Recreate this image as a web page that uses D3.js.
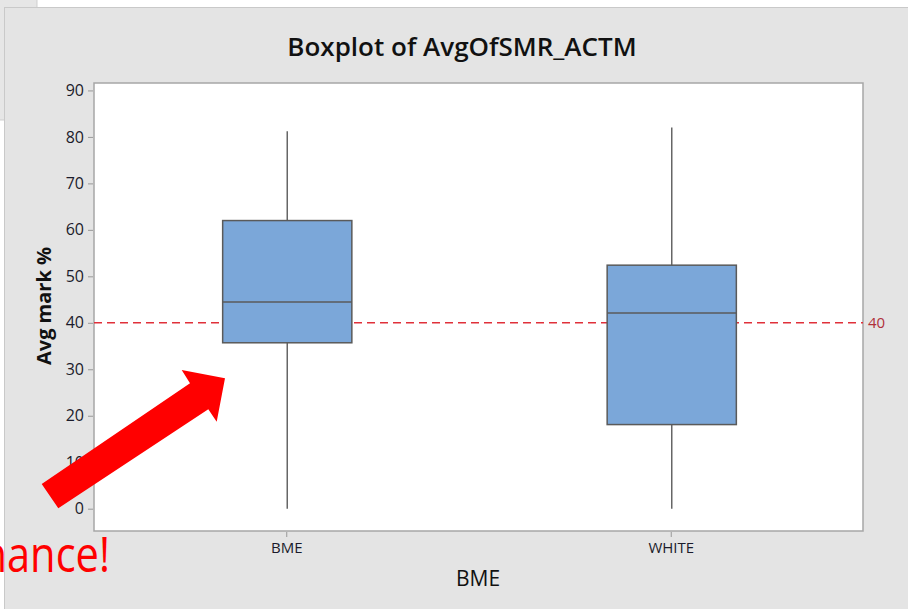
<!DOCTYPE html>
<html>
<head>
<meta charset="utf-8">
<script src="https://cdn.jsdelivr.net/npm/d3@7"></script>
<style>
  html, body { margin: 0; padding: 0; background: #fff; overflow: hidden; }
  svg { display: block; }
</style>
</head>
<body>
<div id="chart"></div>
<script>
// data
const groups = ["BME", "WHITE"]
const whiskerLow = [0, 0]
const q1 = [35.7, 18.1]
const median = [44.5, 42.1]
const q3 = [62.0, 52.4]
const whiskerHigh = [81.2, 82.0]
const refValue = 40
const yTicks = [0, 10, 20, 30, 40, 50, 60, 70, 80, 90]

const W = 908, H = 609
const plot = { left: 94, top: 83, right: 863, bottom: 531 }
const font = "'Open Sans', 'Noto Sans', sans-serif"

const svg = d3.select("#chart").append("svg")
    .attr("width", W)
    .attr("height", H)

// window bits behind the chart panel
svg.append("rect")
    .attr("x", -1).attr("y", -1)
    .attr("width", 38).attr("height", 121)
    .attr("fill", "#e6e6e6")
    .attr("stroke", "#cfcfcf")

svg.append("rect")
    .attr("x", 4.5).attr("y", 7.5)
    .attr("width", W).attr("height", H)
    .attr("fill", "#e4e4e4")
    .attr("stroke", "#c9c9c9")

let y = d3.scaleLinear().domain([-4.8, 91.6]).range([plot.bottom, plot.top])
let x = d3.scalePoint().domain(groups).range([plot.left, plot.right]).padding(0.5)
let boxW = x.step() * 0.336

svg.append("rect")
    .attr("x", plot.left).attr("y", plot.top)
    .attr("width", plot.right - plot.left)
    .attr("height", plot.bottom - plot.top)
    .attr("fill", "#fff")
    .attr("stroke", "#a6a6a6")
    .attr("stroke-width", 1.5)

// title
svg.append("text")
    .attr("x", 462).attr("y", 56)
    .attr("text-anchor", "middle")
    .style("font-family", font)
    .style("font-size", "26px")
    .style("font-weight", 600)
    .attr("fill", "#111")
    .text("Boxplot of AvgOfSMR_ACTM")

// y axis
let yAxis = svg.append("g")
    .attr("transform", "translate(" + (plot.left - 1) + ",0)")
    .call(d3.axisLeft(y).tickValues(yTicks).tickSize(5).tickPadding(4))
yAxis.select(".domain").remove()
yAxis.selectAll(".tick line").attr("stroke", "#999")
yAxis.selectAll(".tick text")
    .style("font-family", font)
    .style("font-size", "16px")
    .attr("fill", "#1b1b2b")

// x axis
let xAxis = svg.append("g")
    .attr("transform", "translate(0," + (plot.bottom + 1) + ")")
    .call(d3.axisBottom(x).tickSize(5).tickPadding(5))
xAxis.select(".domain").remove()
xAxis.selectAll(".tick line").attr("stroke", "#999")
xAxis.selectAll(".tick text")
    .style("font-family", font)
    .style("font-size", "15px")
    .attr("fill", "#1b1b2b")

// axis titles
svg.append("text")
    .attr("transform", "translate(51,306)rotate(-90)")
    .attr("text-anchor", "middle")
    .style("font-family", font)
    .style("font-size", "20px")
    .style("font-weight", 700)
    .attr("fill", "#111")
    .text("Avg mark %")

svg.append("text")
    .attr("x", 478).attr("y", 586)
    .attr("text-anchor", "middle")
    .style("font-family", font)
    .style("font-size", "21px")
    .attr("fill", "#111")
    .text("BME")

// reference line
svg.append("line")
    .attr("x1", plot.left).attr("x2", plot.right)
    .attr("y1", y(refValue)).attr("y2", y(refValue))
    .attr("stroke", "#e0303a")
    .attr("stroke-width", 1.5)
    .attr("stroke-dasharray", "8,5")

svg.append("text")
    .attr("x", plot.right + 5).attr("y", y(refValue))
    .attr("dy", "0.35em")
    .style("font-family", font)
    .style("font-size", "15px")
    .attr("fill", "#b0303a")
    .text(refValue)

// boxes
let boxes = groups.map((g, i) => ({
    g: g, lo: whiskerLow[i], q1: q1[i], med: median[i], q3: q3[i], hi: whiskerHigh[i]
}))

let bx = svg.append("g").selectAll("g")
    .data(boxes)
    .enter()
    .append("g")

bx.append("line")
    .attr("x1", d => x(d.g) + 1).attr("x2", d => x(d.g) + 1)
    .attr("y1", d => y(d.hi)).attr("y2", d => y(d.lo))
    .attr("stroke", "#666")
    .attr("stroke-width", 1.5)

bx.append("rect")
    .attr("x", d => x(d.g) + 1 - boxW / 2)
    .attr("y", d => y(d.q3))
    .attr("width", boxW)
    .attr("height", d => y(d.q1) - y(d.q3))
    .attr("fill", "#7ba7d9")
    .attr("stroke", "#5a5a5a")
    .attr("stroke-width", 1.5)

bx.append("line")
    .attr("x1", d => x(d.g) + 1 - boxW / 2).attr("x2", d => x(d.g) + 1 + boxW / 2)
    .attr("y1", d => y(d.med)).attr("y2", d => y(d.med))
    .attr("stroke", "#5a5a5a")
    .attr("stroke-width", 1.5)

// red arrow annotation pasted over the chart
svg.append("path")
    .attr("d", "M41.7,484 L190,383.3 L181.7,370 L225,378.3 L216.7,421.7 L208.3,409.3 L58.3,508.3 Z")
    .attr("fill", "#ff0000")

// slide text, cut off at the left edge like in the screenshot
svg.append("g")
    .attr("transform", "translate(110,572)scale(0.85,1)")
    .append("text")
    .attr("text-anchor", "end")
    .style("font-family", font)
    .style("font-size", "49px")
    .attr("fill", "#ff0000")
    .text("chance!")
</script>
</body>
</html>
